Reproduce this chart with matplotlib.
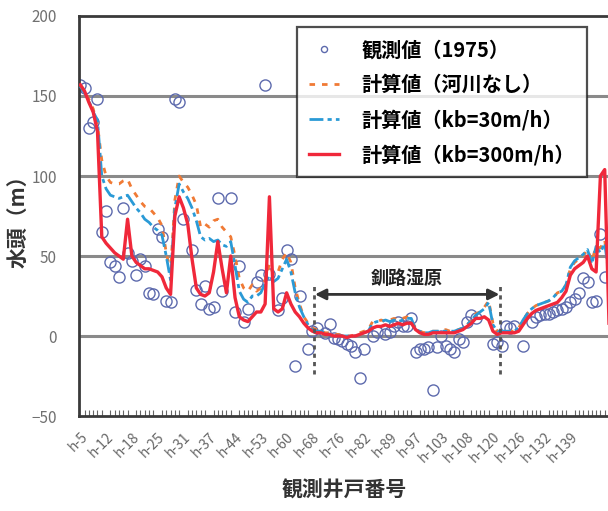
import numpy as np
import matplotlib
matplotlib.use('Agg')
import matplotlib.pyplot as plt
from matplotlib.transforms import ScaledTranslation

plt.rcParams['font.family'] = ['Noto Sans CJK JP', 'DejaVu Sans']

# tick labels (every 6th well)
tick_labels = ['h-5', 'h-12', 'h-18', 'h-25', 'h-31', 'h-37', 'h-44', 'h-53', 'h-60', 'h-68',
               'h-76', 'h-82', 'h-89', 'h-97', 'h-103', 'h-108', 'h-120', 'h-126', 'h-132', 'h-139']

# 計算値（河川なし）
no_river = [157, 153, 148, 142, 132, 110, 100, 96, 95, 95, 97, 98, 92, 88, 84, 81, 80, 77, 74, 69,
            52, 40, 85, 100, 96, 93, 88, 82, 68, 70, 68, 72, 73, 68, 65, 62, 50, 36, 30, 28,
            32, 28, 30, 35, 45, 38, 40, 48, 52, 46, 30, 20, 12, 8, 5, 4, 3, 2, 2, 1,
            1, 0, 0, 0, 1, 2, 3, 4, 9, 9, 10, 9, 10, 11, 10, 11, 12, 10, 5, 3,
            2, 3, 3, 3, 3, 4, 3, 3, 4, 5, 7, 10, 14, 15, 18, 22, 8, 3, 3, 3,
            3, 3, 5, 10, 14, 17, 19, 20, 21, 22, 24, 27, 28, 32, 42, 46, 48, 50, 54, 47,
            56, 55, 60, 40]

# 計算値（kb=30m/h）
kb30 = [156, 152, 147, 140, 135, 100, 92, 88, 87, 86, 87, 88, 84, 80, 77, 73, 71, 68, 66, 63,
        50, 35, 80, 95, 90, 86, 80, 72, 62, 60, 61, 59, 60, 57, 56, 59, 44, 28, 23, 21,
        25, 25, 27, 33, 38, 34, 36, 42, 48, 40, 27, 18, 12, 7, 4, 3, 3, 2, 1, 1,
        0, 0, 0, 0, 0, 1, 2, 3, 8, 9, 9, 10, 9, 10, 9, 10, 11, 11, 4, 3,
        2, 2, 3, 3, 3, 3, 3, 3, 4, 5, 7, 10, 13, 15, 17, 21, 7, 3, 3, 3,
        3, 3, 5, 10, 14, 17, 19, 20, 21, 22, 24, 27, 28, 32, 43, 47, 49, 51, 54, 45,
        56, 52, 58, 38]

# 計算値（kb=300m/h）
kb300 = [157, 153, 146, 140, 128, 62, 58, 55, 52, 50, 48, 73, 50, 46, 44, 42, 42, 41, 40, 37,
         30, 26, 75, 87, 80, 70, 48, 30, 26, 25, 27, 40, 59, 42, 27, 50, 24, 12, 10, 9,
         12, 15, 15, 20, 87, 17, 15, 17, 27, 20, 15, 12, 8, 5, 3, 2, 2, 1, 1, 0,
         0, 0, -1, 0, 0, 1, 2, 3, 5, 6, 6, 7, 6, 7, 8, 7, 8, 8, 4, 2,
         1, 1, 2, 2, 2, 2, 2, 2, 3, 4, 6, 8, 11, 11, 12, 10, 3, 1, 2, 2,
         2, 2, 3, 7, 11, 14, 16, 17, 18, 19, 20, 21, 24, 28, 38, 42, 44, 46, 50, 42,
         40, 100, 104, 8]

nan = np.nan
# 観測値（1975）
observed = [157, 155, 130, 134, 148, 65, 78, 46, 44, 37, 80, 52, 47, 38, 48, 44, 27, 26, 67, 62,
            22, 21, 148, 146, 73, nan, 54, 29, 20, 31, 17, 18, 86, 28, nan, 86, 15, 44, 9, 17,
            nan, 34, 38, 157, 39, nan, 16, 24, 54, 48, -19, 25, nan, -8, 3, 5, nan, 2, 7.5, -1,
            -2, -3, -5, -6, -10, -26, -8, nan, 0, 2.5, nan, 1, 2.5, 6, 9, 6, 6, 11, -10, -8,
            -8, -7, -34, -7, 0, -6, -8, -10, -2, -4, 9, 13, 11, nan, nan, nan, -5, -4, -6, 6,
            5, 6, nan, -6, nan, 9, 12, 13, 14, 14, 15, 16, 17, 18, 21, 23, 27, 36, 34, 21,
            22, 64, 37, nan]

idx = np.arange(len(kb300))

fig = plt.figure(figsize=(6.08, 5.11), dpi=100)
ax = fig.add_axes([79 / 608, 95 / 511, 530 / 608, 400 / 511])

for yv in [0, 50, 100, 150]:
    ax.axhline(yv, color='#8a8a8a', lw=2.2, zorder=1)

ax.plot(idx, observed, 'o', mfc='none', mec='#5d6aad', mew=1.0, ms=8,
        label='観測値（1975）', zorder=2)
ax.plot(idx, no_river, color='#f07a35', lw=2, ls=(0, (2, 2.5)),
        label='計算値（河川なし）', zorder=3)
ax.plot(idx, kb30, color='#2a9ad6', lw=2, ls=(0, (5, 1.5, 1.5, 1.5)),
        label='計算値（kb=30m/h）', zorder=4)
ax.plot(idx, kb300, color='#f0283a', lw=2.4, label='計算値（kb=300m/h）', zorder=5)

# 釧路湿原 range
k0, k1 = 54.4, 97.7
for xv in (k0, k1):
    ax.plot([xv, xv], [-24, 32], color='#555555', lw=2, ls=(0, (1.5, 1.5)), zorder=6)
ax.annotate('', xy=(k0 + 0.2, 26), xytext=(k1 - 0.2, 26),
            arrowprops=dict(arrowstyle='<|-|>', color='#333333', lw=2,
                            mutation_scale=16, shrinkA=0, shrinkB=0), zorder=6)
ax.text((k0 + k1) / 2, 36, '釧路湿原', ha='center', va='center',
        fontsize=13, fontweight='bold', color='#222222', zorder=6)

ax.set_xlim(-0.3, 122.95)
ax.set_ylim(-50, 200)
ax.set_yticks([-50, 0, 50, 100, 150, 200])
ax.tick_params(axis='y', length=0, labelsize=11, labelcolor='#707070', pad=16)

ax.set_xticks(np.arange(0, 6 * len(tick_labels), 6))
ax.set_xticklabels(tick_labels, rotation=45, ha='right', rotation_mode='anchor',
                   fontsize=10, color='#666666')
shift = ScaledTranslation(-5 / 72, 0, fig.dpi_scale_trans)
for lab in ax.get_xticklabels():
    lab.set_transform(lab.get_transform() + shift)
ax.set_xticks(idx, minor=True)
ax.tick_params(axis='x', which='major', length=0, pad=10)
ax.tick_params(axis='x', which='minor', direction='in', length=4, width=0.8, color='#666666')

for s in ['left', 'top', 'bottom']:
    ax.spines[s].set_linewidth(2)
    ax.spines[s].set_color('#3a3a3a')
ax.spines['right'].set_visible(False)

ax.set_ylabel('水頭（m）', fontsize=15, fontweight='bold', color='#333333', labelpad=2)
ax.set_xlabel('観測井戸番号', fontsize=15, fontweight='bold', color='#333333', labelpad=10)

leg = ax.legend(loc='upper left', bbox_to_anchor=(297 / 608, 1 - 27 / 511),
                bbox_transform=fig.transFigure, frameon=True, borderaxespad=0,
                fancybox=False, edgecolor='#222222', handlelength=1.5,
                handletextpad=1.1, labelspacing=0.7, borderpad=0.6, markerscale=0.55,
                prop={'weight': 'bold', 'size': 14.5})
leg.get_frame().set_linewidth(1.6)
leg.set_zorder(10)

fig.savefig('out.png', dpi=100, facecolor='white')
